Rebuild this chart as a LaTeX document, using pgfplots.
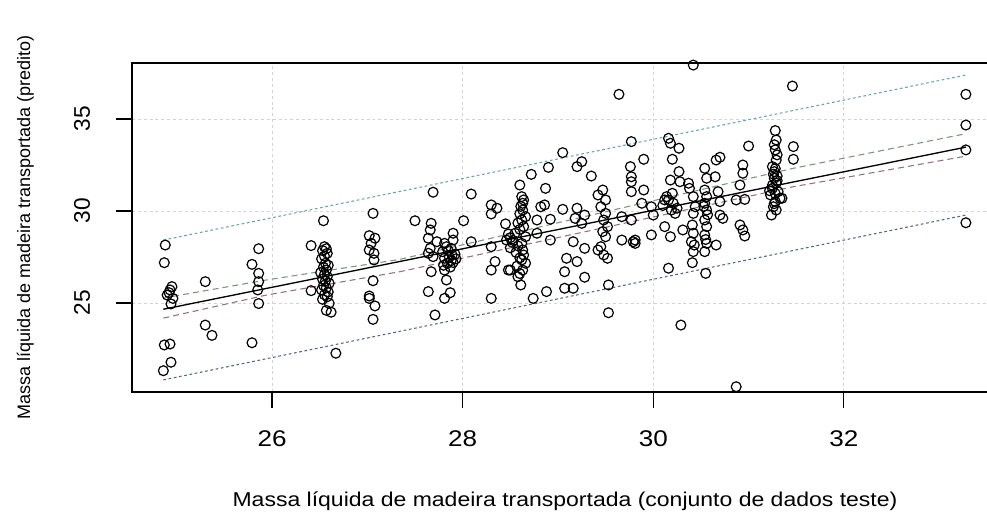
\documentclass[border=0pt]{standalone}
\usepackage{fontspec}
\setmainfont{Liberation Sans}
\newfontfamily\widefont[FakeStretch=1.15]{Liberation Sans}
\usepackage{pgfplots}
\usepackage{pgfplotstable}
\pgfplotsset{compat=1.18}
\definecolor{updot}{RGB}{100,165,170}
\definecolor{lowdot}{RGB}{80,100,135}
\definecolor{updash}{RGB}{120,150,120}
\definecolor{lowdash}{RGB}{150,110,130}
\definecolor{lgray}{RGB}{211,211,211}
\pgfplotstableread{
x y
24.88 28.15
24.87 27.19
24.93 25.71
24.95 25.89
24.90 25.43
24.92 25.56
24.96 25.25
24.94 24.95
24.87 22.72
24.93 22.77
24.94 21.78
24.86 21.32
25.30 26.16
25.30 23.80
25.37 23.24
25.86 27.95
25.79 27.10
25.86 26.61
25.86 26.16
25.85 25.71
25.86 24.97
25.79 22.84
26.54 29.47
26.41 28.12
26.55 28.06
26.57 27.95
26.53 27.85
26.58 27.70
26.55 27.55
26.52 27.40
26.56 27.16
26.59 27.05
26.54 26.95
26.57 26.79
26.51 26.65
26.55 26.55
26.58 26.43
26.53 26.30
26.56 26.20
26.60 26.07
26.54 25.95
26.57 25.82
26.52 25.71
26.59 25.60
26.55 25.45
26.58 25.34
26.53 25.20
26.60 24.98
26.57 24.60
26.62 24.50
26.41 25.67
26.67 22.27
27.06 29.87
27.02 28.66
27.08 28.52
27.04 28.24
27.02 27.88
27.07 27.70
27.07 27.34
27.06 26.21
27.02 25.38
27.02 25.25
27.08 24.84
27.06 24.11
27.69 31.02
28.09 30.92
27.50 29.47
27.67 29.33
27.66 28.97
28.01 29.47
27.90 28.79
27.64 28.52
27.73 28.33
27.66 27.97
27.81 28.24
27.90 28.42
27.64 27.70
27.69 27.52
27.79 27.79
27.83 28.06
27.88 27.97
27.81 27.43
27.89 27.61
27.84 27.16
27.81 26.79
27.67 26.70
27.83 26.25
27.64 25.62
27.81 25.25
27.87 25.56
27.71 24.35
28.09 28.33
27.86 27.50
27.92 27.65
27.88 27.30
27.85 27.85
27.93 27.40
27.80 27.05
27.90 27.20
27.87 26.95
28.30 30.33
28.36 30.15
28.30 29.84
28.30 28.06
28.34 27.25
28.30 26.79
28.30 25.25
28.46 28.42
28.48 26.79
28.60 31.41
28.62 30.78
28.64 30.60
28.63 30.42
28.61 30.25
28.63 30.05
28.60 29.85
28.66 29.69
28.62 29.51
28.58 29.35
28.64 29.15
28.60 29.00
28.55 28.79
28.66 28.60
28.50 28.55
28.53 28.40
28.62 28.24
28.58 28.10
28.50 28.00
28.63 27.88
28.56 27.75
28.64 27.61
28.60 27.45
28.62 27.34
28.66 27.16
28.57 27.00
28.63 26.79
28.60 26.60
28.58 26.43
28.61 25.98
28.50 26.79
28.48 28.75
28.52 28.30
28.45 29.30
28.74 25.25
28.88 25.62
28.72 31.99
28.90 32.37
28.87 31.23
28.82 30.23
28.86 30.33
28.78 29.51
28.92 29.55
28.92 28.42
28.78 28.79
29.05 33.17
29.20 32.41
29.25 32.68
29.35 31.90
29.05 30.09
29.20 30.15
29.18 29.60
29.28 29.78
29.25 29.33
29.16 28.33
29.28 27.97
29.09 27.43
29.20 27.25
29.07 26.70
29.28 26.40
29.07 25.80
29.16 25.80
29.42 30.87
29.47 31.14
29.50 30.60
29.45 30.23
29.50 29.87
29.48 29.51
29.52 29.15
29.47 28.88
29.50 28.60
29.45 28.06
29.48 27.61
29.52 27.43
29.42 27.88
29.53 25.98
29.53 24.47
29.67 28.42
29.67 29.69
29.79 28.33
29.64 36.34
29.77 33.77
29.76 32.41
29.77 31.86
29.77 31.59
29.77 31.05
29.90 32.81
29.90 31.14
29.88 30.42
29.77 29.51
29.81 28.42
29.81 28.24
29.98 30.23
30.00 29.78
29.98 28.70
30.42 37.93
30.16 33.95
30.18 33.68
30.27 33.41
30.20 32.81
30.27 32.14
30.18 31.68
30.28 31.59
30.37 31.51
30.38 31.23
30.12 30.60
30.14 30.78
30.16 30.60
30.20 30.96
30.21 30.42
30.19 30.05
30.23 29.87
30.12 29.15
30.18 28.60
30.31 28.97
30.42 30.78
30.44 30.23
30.42 29.87
30.41 29.24
30.42 28.79
30.40 28.33
30.43 28.15
30.42 27.79
30.41 27.19
30.16 26.89
30.29 23.80
30.10 30.30
30.25 30.15
30.54 32.32
30.56 31.78
30.54 31.14
30.56 30.78
30.54 30.42
30.56 30.05
30.54 29.51
30.56 29.15
30.54 28.70
30.56 28.24
30.54 27.79
30.55 26.61
30.57 29.80
30.53 30.25
30.55 28.45
30.66 32.77
30.70 32.92
30.65 31.86
30.68 31.05
30.70 30.51
30.70 29.78
30.73 29.60
30.66 28.15
30.94 32.50
30.94 32.05
30.91 31.41
31.00 33.53
30.87 30.60
30.96 30.63
30.91 29.24
30.94 28.97
30.96 28.64
30.87 20.45
31.28 34.37
31.29 33.86
31.27 33.60
31.28 33.32
31.30 33.05
31.29 32.77
31.25 32.41
31.28 32.30
31.27 32.14
31.26 32.00
31.27 31.78
31.30 31.65
31.29 31.51
31.25 31.40
31.25 31.23
31.31 31.05
31.28 30.95
31.23 30.87
31.33 30.69
31.35 30.69
31.28 30.51
31.27 30.40
31.26 30.23
31.29 30.05
31.24 29.78
31.30 31.90
31.22 31.10
31.46 36.79
31.47 33.50
31.47 32.81
33.28 36.34
33.28 34.67
33.28 33.32
33.28 29.36
}\pts
\begin{document}
\begin{tikzpicture}
\begin{axis}[
  at={(0,0)}, anchor=south west,
  scale only axis, width=649.5pt, height=246.75pt,
  xmin=24.531, xmax=33.617, ymin=20.163, ymax=38.043,
  xtick={26,28,30,32}, ytick={25,30,35},
  tick pos=left, tick align=outside, major tick length=12pt,
  tick style={black, line width=0.9pt},
  axis line style={line width=1.2pt},
  grid=major, grid style={lgray, dash pattern=on 2.2pt off 2.2pt, line width=0.7pt},
  /pgf/number format/assume math mode=true,
  ticklabel style={font=\fontsize{17}{19}\selectfont},
  xticklabel style={anchor=center, yshift=-23pt, font=\widefont\fontsize{17}{19}\selectfont},
  yticklabel style={anchor=center, xshift=-25.5pt, rotate=90},
  xlabel={Massa líquida de madeira transportada (conjunto de dados teste)},
  ylabel={Massa líquida de madeira transportada (predito)},
  every axis x label/.style={at={(axis description cs:0.5,0)}, anchor=center, yshift=-82pt, font=\widefont\fontsize{15}{17}\selectfont},
  every axis y label/.style={at={(axis description cs:0,0.5)}, xshift=-80pt, rotate=90, anchor=center, font=\fontsize{13.5}{15}\selectfont},
]
\addplot[updot, line width=0.8pt, dash pattern=on 2pt off 2pt] coordinates {(24.86,28.42) (33.28,37.39)};
\addplot[lowdot, line width=0.8pt, dash pattern=on 2pt off 2pt] coordinates {(24.86,20.82) (33.28,29.78)};
\addplot[updash, line width=0.8pt, dash pattern=on 4.5pt off 3pt] coordinates {(24.86,25.27) (25.94,26.25) (27.34,27.37) (29.3,29.72) (31.47,32.32) (33.28,34.2)};
\addplot[lowdash, line width=0.8pt, dash pattern=on 4.5pt off 3pt] coordinates {(24.86,24.18) (25.94,25.43) (27.34,26.70) (29.3,28.89) (31.47,31.32) (33.28,32.98)};
\addplot[black, line width=1pt] coordinates {(24.86,24.66) (33.28,33.47)};
\addplot[only marks, mark=o, mark size=3.7pt, mark options={black, line width=0.9pt}] table[x=x,y=y] {\pts};
\end{axis}
\pgfresetboundingbox
\useasboundingbox (-99pt,-101.25pt) rectangle (641.25pt,294pt);
\end{tikzpicture}
\end{document}
